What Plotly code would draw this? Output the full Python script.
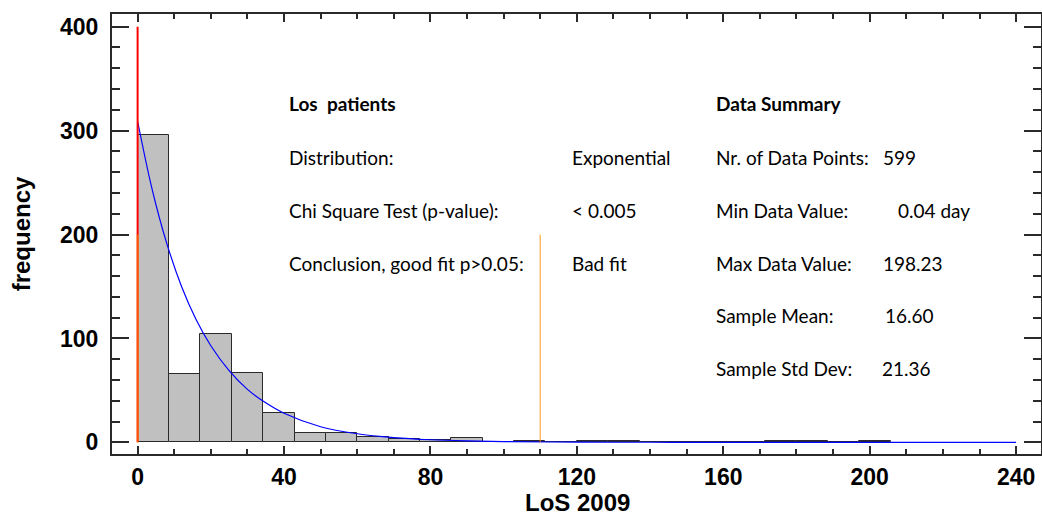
import plotly.graph_objects as go

# ---- data ----
bin_start = 0.0
bin_width = 240 / 28
counts = [296, 66, 104, 67, 28, 9, 9, 5, 3, 2, 4, 0, 1, 0, 1, 1, 0, 0, 0, 0, 1, 1, 0, 1]

fit_x = [0, 4, 8, 12, 16, 20, 25, 30, 35, 40, 50, 60, 70, 80, 90, 100, 120, 140, 160, 200, 240]
fit_y = [309, 243, 191, 150, 118, 93, 69, 51, 38, 28, 15, 8.3, 4.6, 2.5, 1.4, 0.8, 0.2, 0.1, 0, 0, 0]

red_x = [0, 0]
red_y = [0, 400]
orange1_x = [0, 0]
orange1_y = [0, 200]
orange2_x = [110, 110]
orange2_y = [0, 200]

x_title = "LoS 2009"
y_title = "frequency"
left_labels = ["<b>Los\u00a0\u00a0patients</b>", "Distribution:", "Chi Square Test (p-value):",
               "Conclusion, good fit p>0.05:"]
left_values = ["", "Exponential", "< 0.005", "Bad fit"]
right_labels = ["<b>Data Summary</b>", "Nr. of Data Points:", "Min Data Value:", "Max Data Value:",
                "Sample Mean:", "Sample Std Dev:"]
right_values = ["", "599", "0.04 day", "198.23", "16.60", "21.36"]

bar_x = [bin_start + bin_width * (i + 0.5) for i in range(len(counts))]

fig = go.Figure()
fig.add_trace(go.Bar(x=bar_x, y=counts, width=bin_width,
                     marker=dict(color="#C0C0C0", line=dict(color="#2a2a2a", width=1)),
                     showlegend=False))
fig.add_trace(go.Scatter(x=fit_x, y=fit_y, mode="lines", line=dict(color="#0000FF", width=1.2, shape="spline"),
                         showlegend=False))
fig.add_trace(go.Scatter(x=red_x, y=red_y, mode="lines", line=dict(color="#FF0000", width=2), showlegend=False))
fig.add_trace(go.Scatter(x=orange1_x, y=orange1_y, mode="lines", line=dict(color="rgba(255,140,0,0.6)", width=2),
                         showlegend=False))
fig.add_trace(go.Scatter(x=orange2_x, y=orange2_y, mode="lines", line=dict(color="rgba(255,140,0,0.6)", width=1.5),
                         showlegend=False))

# layout geometry (pixels)
L, R, T, B = 112.3, 1041.0, 14.0, 454.3
W, H = 1042, 517


def px(xp):
    return (xp - L) / (R - L)


def py(yp):
    return (B - yp) / (B - T)


rows_y = [104, 158, 211, 264, 316, 369]
txt_font = dict(family="Lato, Calibri, sans-serif", size=19, color="black")

ann = []
for i, t in enumerate(left_labels):
    ann.append(dict(x=px(287), y=py(rows_y[i]), text=t))
    if left_values[i]:
        ann.append(dict(x=px(570), y=py(rows_y[i]), text=left_values[i]))
val_x = [881, 881, 896, 881, 883, 880]
for i, t in enumerate(right_labels):
    ann.append(dict(x=px(714), y=py(rows_y[i]), text=t))
    if right_values[i]:
        ann.append(dict(x=px(val_x[i]), y=py(rows_y[i]), text=right_values[i]))
for a in ann:
    a.update(xref="paper", yref="paper", xanchor="left", yanchor="middle", showarrow=False, font=txt_font)

tickfont = dict(family="Liberation Sans, Arial, sans-serif", size=23, color="black", weight="bold")
titlefont = dict(family="Liberation Sans, Arial, sans-serif", size=24, color="black", weight="bold")
axcol = "#2a2a2a"

ann.append(dict(x=px(578), y=py(503), xref="paper", yref="paper", xanchor="center", yanchor="middle",
                showarrow=False, text=x_title, font=titlefont, borderpad=0))

fig.update_layout(
    width=W, height=H,
    margin=dict(l=L, r=W - R, t=T, b=H - B, autoexpand=False),
    plot_bgcolor="white", paper_bgcolor="white",
    bargap=0,
    annotations=ann,
    xaxis=dict(range=[-7.0, 246.8], tickmode="linear", tick0=0, dtick=40, ticks="inside", ticklen=8,
               tickwidth=1.5, tickcolor=axcol, showline=True, linecolor=axcol, linewidth=2, mirror="ticks",
               showgrid=False, zeroline=False, tickfont=tickfont, ticklabelstandoff=1,
               minor=dict(tick0=0, dtick=10, ticks="inside", ticklen=5, tickwidth=1.5, tickcolor=axcol,
                          showgrid=False)),
    yaxis=dict(range=[-11.2, 412.2], tickmode="linear", tick0=0, dtick=100, ticks="inside", ticklen=17,
               tickwidth=1.5, tickcolor=axcol, showline=True, linecolor=axcol, linewidth=2, mirror="ticks",
               showgrid=False, zeroline=False, tickfont=tickfont, ticklabelstandoff=7,
               minor=dict(tick0=0, dtick=20, ticks="inside", ticklen=8, tickwidth=1.5, tickcolor=axcol,
                          showgrid=False),
               title=dict(text=y_title, font=titlefont, standoff=23)),
)

fig.write_html("out.html")
